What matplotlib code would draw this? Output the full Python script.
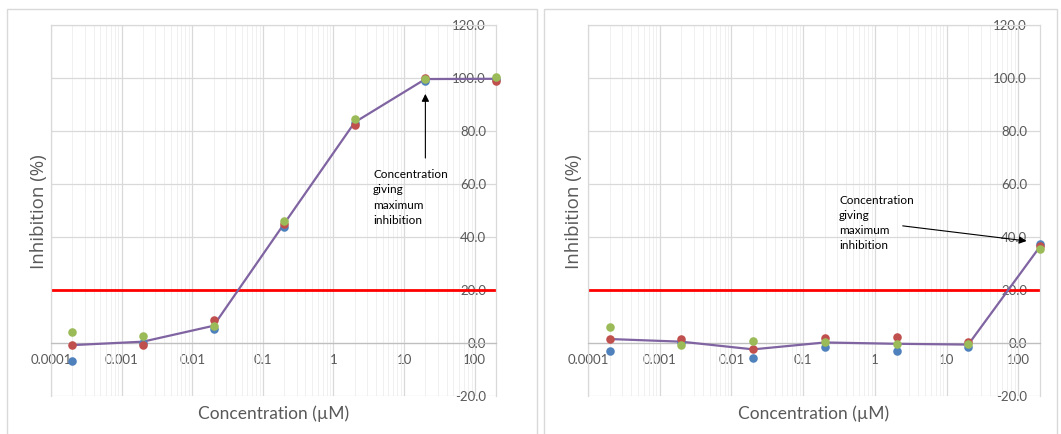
import matplotlib
matplotlib.use("Agg")
import matplotlib.pyplot as plt
from matplotlib.patches import Rectangle
from matplotlib.ticker import LogLocator, NullFormatter, FixedLocator

plt.rcParams["font.family"] = ["Lato", "DejaVu Sans"]

# concentrations (µM)
conc = [0.0002, 0.002, 0.02, 0.2, 2, 20, 200]

# left compound: three replicates + mean line
left_blue = [-6.7, 0.1, 5.2, 43.7, 83.0, 98.9, 99.8]
left_red = [-0.6, -0.6, 8.6, 45.0, 82.3, 100.1, 99.0]
left_green = [4.3, 2.8, 6.3, 46.2, 84.5, 99.6, 100.3]
left_mean = [-0.8, 0.5, 6.5, 45.0, 83.3, 99.6, 99.7]

# right compound
right_blue = [-3.1, 0.3, -5.5, -1.5, -2.9, -1.6, 37.4]
right_red = [1.5, 1.5, -2.4, 1.8, 2.4, 0.3, 36.5]
right_green = [6.2, -0.6, 0.8, 0.3, -0.4, -0.5, 35.5]
right_mean = [1.5, 0.5, -2.4, 0.2, -0.3, -0.6, 36.4]

threshold = 20
x_ticks = [0.0001, 0.001, 0.01, 0.1, 1, 10, 100]
x_ticklabels = ["0.0001", "0.001", "0.01", "0.1", "1", "10", "100"]
y_ticks = [-20, 0, 20, 40, 60, 80, 100, 120]

note = "Concentration\ngiving\nmaximum\ninhibition"

GREY = "#595959"
W, H = 1061, 434

fig = plt.figure(figsize=(W / 100, H / 100), dpi=100)

# chart frames (Excel style)
for x0, x1 in [(7, 537), (544, 1057)]:
    fig.patches.append(Rectangle((x0 / W, 0 - 0.01), (x1 - x0) / W, (H - 9) / H + 0.01,
                                 transform=fig.transFigure, fill=False,
                                 edgecolor="#d9d9d9", lw=1.0))


def panel(rect, blue, red, green, mean, note_xy, arrow_tail, arrow_tip, ylab_x, ypad):
    ax = fig.add_axes(rect)
    ax.set_xscale("log")
    ax.set_xlim(0.0001, 200)
    ax.set_ylim(-20, 120)

    ax.xaxis.set_major_locator(FixedLocator(x_ticks))
    ax.set_xticklabels(x_ticklabels)
    ax.xaxis.set_minor_locator(LogLocator(base=10, subs=range(2, 10), numticks=20))
    ax.xaxis.set_minor_formatter(NullFormatter())
    ax.set_yticks(y_ticks)
    ax.set_yticklabels([f"{v:.1f}" for v in y_ticks])

    ax.grid(True, which="major", color="#d9d9d9", lw=0.9)
    ax.grid(True, which="minor", axis="x", color="#eeeeee", lw=0.6)
    ax.set_axisbelow(True)

    for s in ax.spines.values():
        s.set_color("#d9d9d9")
        s.set_linewidth(0.9)
    ax.spines["bottom"].set_position(("data", 0))
    ax.spines["bottom"].set_color("#bfbfbf")

    ax.tick_params(axis="x", which="both", length=0, pad=8, labelsize=9.5, labelcolor=GREY)
    ax.tick_params(axis="y", which="both", length=0, left=False, labelleft=False,
                   right=False, labelright=True, pad=ypad, labelsize=9.5, labelcolor=GREY)
    for lbl in ax.get_yticklabels():
        lbl.set_horizontalalignment("right")

    ax.axhline(threshold, color="#ff0000", lw=2, zorder=2)
    ax.plot(conc, mean, color="#8064a2", lw=1.6, zorder=3)
    ax.scatter(conc, blue, s=38, color="#4f81bd", zorder=4, clip_on=False, linewidths=0)
    ax.scatter(conc, red, s=38, color="#c0504d", zorder=5, clip_on=False, linewidths=0)
    ax.scatter(conc, green, s=38, color="#9bbb59", zorder=6, clip_on=False, linewidths=0)

    ax.text(note_xy[0], note_xy[1], note, fontsize=8.5, va="top", ha="left",
            linespacing=1.45, color="black", zorder=7)
    ax.annotate("", xy=arrow_tip, xytext=arrow_tail,
                arrowprops=dict(arrowstyle="-|>", color="black", lw=0.8,
                                mutation_scale=11, shrinkA=0, shrinkB=0), zorder=7)

    ax.set_xlabel("Concentration (µM)", fontsize=12.5, color=GREY)
    ax.xaxis.set_label_coords(0.5, -0.025)
    fig.text(ylab_x / W, 1 - 212 / H, "Inhibition (%)", rotation=90, fontsize=13.5,
             family=["Open Sans", "DejaVu Sans"], color=GREY, ha="center", va="center")
    return ax


bottom = 1 - 396 / H
height = (396 - 25) / H

panel([51 / W, bottom, (496 - 51) / W, height], left_blue, left_red, left_green, left_mean,
      (3.64, 65.5), (20, 69.8), (20, 94), 39, -7.2)
panel([588 / W, bottom, (1040 - 588) / W, height], right_blue, right_red, right_green, right_mean,
      (0.316, 56.0), (2.44, 44.2), (130, 38.5), 574, -9.4)

fig.savefig("out.png", dpi=100)
